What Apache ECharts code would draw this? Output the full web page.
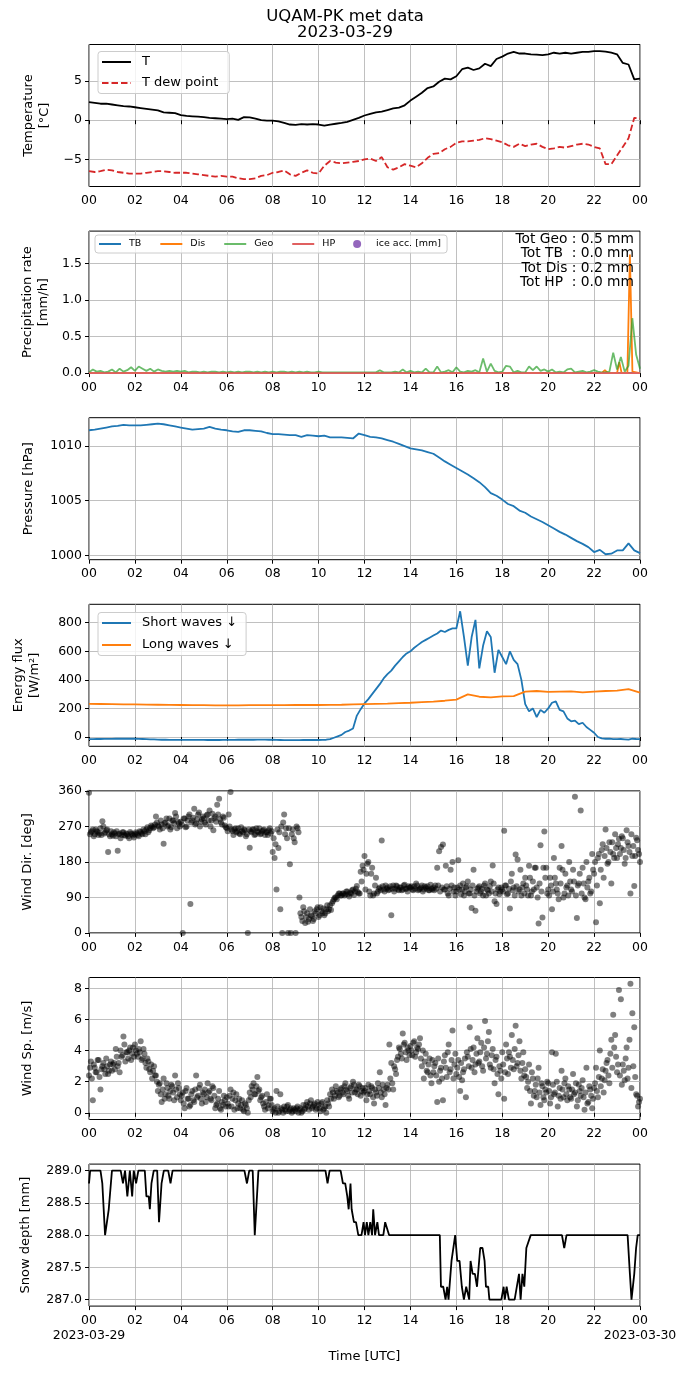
<!DOCTYPE html>
<html lang="en">
<head>
<meta charset="UTF-8">
<title>UQAM-PK met data</title>
<style>
  html, body { margin: 0; padding: 0; background: #fff; }
  #chart { width: 690px; height: 1377px; }
</style>
</head>
<body>
<div id="chart"></div>
<script src="https://cdn.jsdelivr.net/npm/echarts@6/dist/echarts.min.js"></script>
<script>
// ---- data (hours UTC on 2023-03-29) ----

// temperature, every 15 min from 00 to 24
var tempT = [
  2.3, 2.2, 2.1, 2.1,   2.0, 1.9, 1.8, 1.75,   1.65, 1.55, 1.45, 1.35,   1.25, 1.0, 0.95, 0.9,
  0.65, 0.55, 0.5, 0.45,   0.4, 0.3, 0.25, 0.2,   0.15, 0.2, 0.05, 0.4,   0.35, 0.2, 0.0, -0.05,
  -0.05, -0.15, -0.35, -0.55,   -0.6, -0.5, -0.55, -0.5,   -0.55, -0.7, -0.55, -0.45,   -0.35, -0.2, 0.05, 0.3,
  0.6, 0.8, 1.0, 1.1,   1.3, 1.5, 1.6, 1.9,   2.5, 3.0, 3.5, 4.1,   4.3, 4.9, 5.3, 5.2,
  5.6, 6.5, 6.7, 6.4,   6.6, 7.2, 6.9, 7.8,   8.1, 8.5, 8.7, 8.5,   8.5, 8.4, 8.35, 8.3,
  8.4, 8.6, 8.5, 8.6,   8.5, 8.6, 8.7, 8.7,   8.8, 8.8, 8.75, 8.6,   8.4, 7.3, 7.1, 5.2,
  5.3
];
var tempTd = [
  -6.5, -6.6, -6.5, -6.3,   -6.4, -6.6, -6.7, -6.8,   -6.8, -6.8, -6.7, -6.6,   -6.5, -6.5, -6.6, -6.7,
  -6.7, -6.7, -6.8, -6.9,   -7.0, -7.1, -7.2, -7.1,   -7.2, -7.2, -7.4, -7.5,   -7.5, -7.4, -7.1, -7.0,
  -6.7, -6.6, -6.4, -6.9,   -7.1, -6.7, -6.4, -6.7,   -6.8, -5.8, -5.2, -5.4,   -5.5, -5.4, -5.3, -5.2,
  -5.0, -4.9, -5.2, -4.7,   -6.0, -6.3, -6.0, -5.6,   -5.8, -6.0, -5.5, -4.8,   -4.3, -4.2, -3.7, -3.4,
  -2.9, -2.7, -2.7, -2.6,   -2.5, -2.3, -2.4, -2.6,   -2.8, -3.2, -3.4, -3.0,   -3.3, -3.1, -3.0, -3.4,
  -3.7, -3.6, -3.4, -3.5,   -3.3, -3.1, -3.0, -3.1,   -3.4, -3.6, -5.6, -5.6,   -4.5, -3.4, -2.3, 0.3,
  0.2
];

// precipitation rate [mm/h]; Geo every 10 min, Dis as [hour, value]
var precipGeo = [
  0.01, 0.05, 0.02, 0.03, 0.01, 0.02,   0.05, 0.01, 0.06, 0.02, 0.04, 0.08,
  0.03, 0.09, 0.06, 0.03, 0.06, 0.02,   0.05, 0.03, 0.02, 0.03, 0.02, 0.03,
  0.02, 0.03, 0.01, 0.02, 0.02, 0.01,   0.02, 0.01, 0.02, 0.02, 0.01, 0.02,
  0.01, 0.02, 0.01, 0.02, 0.01, 0.02,   0.02, 0.01, 0.02, 0.01, 0.02, 0.01,
  0.02, 0.01, 0.02, 0.02, 0.01, 0.02,   0.01, 0.02, 0.01, 0.02, 0.01, 0.01,
  0.02, 0.01, 0.01, 0.01, 0.01, 0.01,   0.01, 0.01, 0.01, 0.01, 0.01, 0.01,
  0.01, 0.01, 0.01, 0.01, 0.04, 0.01,   0.01, 0.01, 0.02, 0.01, 0.05, 0.01,
  0.03, 0.01, 0.02, 0.01, 0.06, 0.01,   0.01, 0.09, 0.01, 0.02, 0.04, 0.01,
  0.08, 0.02, 0.01, 0.03, 0.02, 0.04,   0.01, 0.20, 0.02, 0.13, 0.03, 0.01,
  0.02, 0.10, 0.09, 0.01, 0.03, 0.01,   0.01, 0.09, 0.04, 0.09, 0.03, 0.05,
  0.02, 0.05, 0.01, 0.02, 0.01, 0.05,   0.06, 0.01, 0.02, 0.03, 0.01, 0.02,
  0.04, 0.02, 0.01, 0.01, 0.02, 0.28,   0.05, 0.22, 0.02, 0.10, 0.75, 0.25,
  0.06
];
var precipDis = [
  [0, 0], [22.33, 0], [22.47, 0.04], [22.6, 0], [23.0, 0], [23.1, 0.15], [23.2, 0],
  [23.45, 0], [23.56, 1.62], [23.67, 0.02], [24, 0]
];
var precipTB = [[0, 0], [24, 0]];
var precipHP = [[0, 0], [24, 0]];
var precipTotals = ['Tot Geo : 0.5 mm', 'Tot TB  : 0.0 mm', 'Tot Dis : 0.2 mm', 'Tot HP  : 0.0 mm'];

// pressure [hPa], every 15 min
var pressure = [
  1011.45, 1011.5, 1011.6, 1011.7,   1011.8, 1011.85, 1011.95, 1011.9,   1011.9, 1011.9, 1011.95, 1012.0,
  1012.05, 1012.0, 1011.9, 1011.8,   1011.7, 1011.6, 1011.5, 1011.55,   1011.6, 1011.75, 1011.6, 1011.5,
  1011.45, 1011.35, 1011.3, 1011.45,   1011.45, 1011.4, 1011.35, 1011.2,   1011.1, 1011.1, 1011.05, 1011.0,
  1011.0, 1010.85, 1011.0, 1010.95,   1010.9, 1010.95, 1010.8, 1010.8,   1010.8, 1010.75, 1010.7, 1011.15,
  1011.0, 1010.85, 1010.8, 1010.7,   1010.55, 1010.4, 1010.2, 1010.0,   1009.8, 1009.7, 1009.6, 1009.45,
  1009.3, 1008.95, 1008.6, 1008.3,   1008.0, 1007.7, 1007.4, 1007.05,   1006.7, 1006.25, 1005.7, 1005.45,
  1005.1, 1004.7, 1004.5, 1004.1,   1003.9, 1003.55, 1003.3, 1003.05,   1002.75, 1002.45, 1002.15, 1001.9,
  1001.6, 1001.3, 1001.05, 1000.75,   1000.3, 1000.5, 1000.1, 1000.15,   1000.45, 1000.45, 1001.1, 1000.45,
  1000.2
];

// radiation [W/m2]; short waves every 10 min, long waves every 30 min
var shortWaves = [
  -15, -15, -14, -14, -13, -13,   -13, -12, -12, -12, -12, -12,   -12, -13, -14, -15, -16, -17,
  -18, -19, -19, -20, -20, -20,   -20, -20, -20, -20, -20, -20,   -20, -21, -21, -21, -21, -20,
  -20, -20, -20, -19, -19, -19,   -19, -19, -18, -18, -18, -19,   -19, -20, -21, -22, -22, -22,
  -22, -22, -21, -21, -21, -21,   -21, -20, -19, -15, -5, 5,      15, 35, 45, 60, 150, 195,
  235, 265, 300, 335, 370, 410,   440, 465, 500, 530, 560, 585,   600, 625, 645, 665, 680, 695,
  710, 725, 745, 735, 750, 760,   760, 880, 700, 500, 700, 820,   480, 640, 740, 700, 450, 610,
  560, 510, 600, 540, 510, 400,   230, 180, 200, 140, 190, 170,   200, 240, 250, 190, 180, 130,
  110, 115, 90, 100, 70, 50,      30, 0, -10, -12, -12, -15,      -15, -14, -16, -18, -12, -14,
  -15
];
var longWaves = [
  232, 231, 230, 229, 228, 227, 226, 225, 224, 223, 223, 222, 222, 222, 223, 223,
  223, 223, 224, 224, 224, 225, 226, 228, 230, 232, 234, 237, 240, 244, 248, 254,
  262, 298, 282, 278, 284, 286, 318, 322, 316, 318, 320, 312, 318, 322, 325, 335,
  310
];

// wind direction [deg] and speed [m/s]: samples every 5 min from 00:00 (A)
// and every 5 min from 00:02:30 (B)
var windDirA = [
  355, 255, 262, 250, 258, 248, 265, 283, 252, 260, 205, 245,
  250, 255, 245, 208, 252, 248, 255, 246, 250, 240, 252, 247,
  250, 252, 245, 256, 250, 258, 262, 255, 266, 270, 268, 295,
  272, 262, 275, 226, 280, 270, 290, 268, 285, 304, 265, 278,
  282, 0, 290, 270, 295, 73, 285, 315, 278, 300, 270, 288,
  290, 275, 300, 310, 285, 260, 295, 325, 340, 280, 295, 272,
  265, 300, 357, 258, 262, 255, 265, 250, 258, 262, 245, 0,
  216, 255, 262, 250, 258, 265, 252, 260, 248, 255, 260, 252,
  205, 190, 110, 215, 60, 0, 300, 265, 0, 174, 250, 240,
  0, 265, 90, 40, 65, 25, 50, 35, 45, 30, 55, 60,
  40, 65, 50, 45, 60, 55, 70, 75, 85, 90, 95, 100,
  95, 100, 98, 105, 92, 100, 110, 105, 119, 100, 155, 170,
  195, 150, 180, 95, 165, 100, 140, 105, 115, 234, 110, 120,
  115, 110, 45, 120, 112, 118, 108, 115, 110, 122, 112, 118,
  115, 110, 118, 125, 108, 112, 120, 110, 115, 118, 108, 112,
  115, 120, 165, 207, 218, 224, 110, 118, 95, 160, 180, 115,
  105, 184, 120, 110, 95, 115, 130, 100, 63, 160, 56, 112,
  118, 105, 95, 125, 110, 100, 130, 171, 80, 73, 115, 105,
  110, 259, 120, 100, 62, 150, 115, 199, 186, 110, 95, 125,
  140, 110, 170, 95, 130, 165, 115, 24, 222, 39, 257, 165,
  110, 140, 60, 190, 125, 100, 165, 220, 90, 150, 120, 180,
  110, 160, 345, 38, 125, 310, 165, 90, 180, 130, 100, 200,
  150, 27, 190, 75, 210, 140, 262, 175, 230, 125, 200, 250,
  190, 239, 215, 240, 175, 260, 220, 100, 195, 119, 241, 210,
  180
];
var windDirB = [
  250, 258, 245, 262, 256, 252, 248, 270, 255, 262, 250, 258,
  246, 252, 258, 250, 240, 255, 248, 252, 245, 256, 250, 242,
  255, 248, 258, 252, 262, 250, 268, 260, 272, 265, 275, 280,
  270, 285, 265, 278, 290, 272, 262, 285, 278, 295, 282, 270,
  275, 290, 268, 285, 300, 280, 292, 275, 288, 305, 282, 295,
  280, 298, 285, 270, 302, 290, 282, 300, 288, 275, 292, 268,
  258, 270, 262, 248, 265, 258, 252, 268, 255, 260, 250, 262,
  258, 262, 248, 265, 255, 250, 258, 262, 255, 248, 265, 258,
  240, 225, 262, 255, 270, 280, 250, 240, 265, 0, 262, 230,
  270, 255, 50, 30, 55, 40, 28, 60, 42, 35, 50, 65,
  45, 55, 62, 50, 70, 60, 58, 80, 90, 85, 100, 95,
  100, 95, 105, 98, 102, 108, 96, 112, 104, 100, 130, 160,
  110, 175, 105, 150, 95, 120, 100, 112, 108, 118, 105, 112,
  108, 118, 112, 105, 120, 110, 115, 108, 120, 112, 105, 115,
  118, 108, 112, 120, 110, 115, 105, 118, 112, 108, 122, 110,
  108, 112, 120, 105, 115, 110, 170, 100, 112, 120, 105, 95,
  115, 110, 98, 125, 105, 118, 100, 110, 120, 95, 105, 115,
  100, 112, 120, 95, 108, 118, 105, 125, 100, 110, 98, 115,
  105, 120, 98, 112, 130, 108, 95, 118, 105, 160, 115, 100,
  120, 95, 140, 105, 110, 165, 90, 125, 105, 165, 140, 100,
  95, 120, 105, 140, 110, 85, 125, 160, 100, 115, 95, 130,
  105, 130, 95, 120, 150, 100, 125, 85, 115, 140, 105, 160,
  180, 120, 200, 160, 225, 195, 215, 180, 205, 230, 190, 215,
  225, 200, 245, 210, 190, 230, 205, 250, 220, 195, 235, 200
];
var windSpeedA = [
  2.4, 3.3, 0.8, 2.9, 2.6, 3.4, 1.5, 3.0, 2.8, 3.5, 2.5, 3.1,
  2.7, 3.2, 4.1, 3.0, 2.6, 3.6, 4.9, 3.3, 3.9, 4.0, 3.4, 4.2,
  4.4, 3.8, 4.1, 4.6, 3.5, 3.8, 2.9, 3.3, 2.6, 2.2, 3.0, 2.4,
  1.4, 1.9, 0.7, 2.2, 1.2, 1.6, 0.9, 1.8, 1.3, 2.4, 1.0, 1.6,
  0.8, 1.3, 0.3, 1.6, 0.9, 0.5, 1.4, 0.7, 2.4, 1.1, 1.8, 0.6,
  1.2, 0.7, 1.9, 1.4, 0.8, 1.6, 0.3, 0.6, 1.4, 0.2, 0.5, 0.8,
  1.0, 0.4, 1.5, 0.9, 0.2, 1.2, 0.6, 0.3, 0.8, 0.1, 0.5, 0.0,
  1.3, 1.7, 1.9, 1.2, 2.3, 1.5, 1.0, 0.6, 0.2, 1.2, 0.5, 0.9,
  0.1, 0.3, 1.4, 0.0, 1.2, 0.2, 0.4, 0.1, 0.5, 0.2, 0.0, 0.3,
  0.1, 0.4, 0.2, 0.0, 0.5, 0.3, 0.7, 0.2, 0.8, 0.4, 0.6, 0.3,
  0.5, 0.1, 0.7, 0.3, 0.0, 0.6, 1.2, 1.5, 0.9, 1.7, 1.3, 1.1,
  1.6, 1.2, 1.9, 1.4, 0.9, 1.7, 2.0, 1.3, 1.5, 1.8, 1.1, 1.6,
  1.4, 0.8, 1.8, 1.2, 1.6, 0.6, 1.3, 1.9, 2.6, 1.0, 1.5, 0.5,
  1.8, 4.4, 3.2, 1.5, 2.8, 3.4, 4.2, 3.8, 5.1, 4.5, 3.4, 4.0,
  4.3, 3.7, 4.6, 3.9, 4.1, 4.8, 3.0, 2.2, 3.8, 2.6, 3.5, 1.9,
  2.6, 3.2, 0.7, 2.0, 2.9, 0.8, 3.7, 2.3, 4.4, 2.8, 5.3, 3.1,
  2.5, 3.4, 1.4, 2.1, 2.8, 1.0, 3.6, 5.5, 2.9, 4.2, 3.1, 4.8,
  3.3, 4.5, 2.7, 5.9, 3.8, 5.2, 2.9, 4.1, 1.9, 3.6, 1.2, 2.7,
  3.9, 0.9, 4.4, 2.5, 3.6, 5.0, 2.8, 5.6, 3.2, 4.6, 2.2, 3.9,
  2.8, 1.6, 3.1, 0.6, 2.2, 1.4, 1.0, 2.9, 0.5, 1.7, 0.8, 1.3,
  1.9, 0.6, 3.9, 1.2, 3.8, 0.4, 1.6, 2.7, 1.0, 2.2, 0.8, 1.5,
  0.9, 2.5, 1.3, 0.4, 1.8, 1.1, 2.1, 0.2, 2.9, 0.7, 1.5, 0.3,
  1.6, 2.9, 1.0, 4.0, 2.2, 1.3, 2.7, 3.4, 1.9, 4.7, 6.3, 5.0,
  2.6, 7.9, 7.3, 3.1, 2.1, 4.2, 2.9, 8.3, 6.4, 5.5, 1.2, 0.4,
  0.9
];
var windSpeedB = [
  2.9, 2.2, 3.1, 2.6, 3.4, 2.3, 2.8, 3.2, 2.5, 3.0, 2.7, 3.3,
  3.1, 2.8, 3.6, 3.2, 4.0, 3.7, 4.4, 3.9, 3.5, 4.2, 3.8, 3.6,
  4.0, 3.6, 3.9, 3.4, 4.1, 3.2, 3.5, 2.8, 3.1, 2.7, 2.4, 2.0,
  1.8, 1.2, 1.5, 0.9, 1.9, 1.1, 1.4, 1.7, 0.8, 1.5, 1.9, 1.2,
  1.1, 0.6, 1.4, 0.9, 0.4, 1.2, 0.8, 1.5, 1.0, 1.6, 0.9, 1.3,
  1.5, 1.0, 1.3, 0.9, 1.7, 1.1, 0.5, 0.9, 0.3, 0.7, 1.1, 0.4,
  0.6, 1.1, 0.4, 1.3, 0.8, 0.3, 0.9, 0.5, 0.2, 0.6, 0.3, 0.8,
  1.0, 1.5, 1.2, 1.7, 1.4, 0.8, 1.1, 0.4, 0.7, 0.3, 0.9, 0.5,
  0.2, 0.0, 0.4, 0.1, 0.3, 0.0, 0.2, 0.4, 0.1, 0.3, 0.1, 0.2,
  0.3, 0.0, 0.3, 0.1, 0.2, 0.5, 0.4, 0.6, 0.3, 0.5, 0.2, 0.7,
  0.3, 0.6, 0.2, 0.4, 0.8, 0.4, 0.9, 1.3, 1.1, 1.4, 1.0, 1.5,
  1.3, 1.7, 1.5, 1.1, 1.6, 1.3, 1.8, 1.5, 1.2, 1.7, 1.4, 1.3,
  1.6, 1.2, 1.4, 1.7, 1.0, 1.5, 1.1, 1.6, 1.3, 1.8, 1.2, 1.6,
  1.5, 2.2, 1.9, 3.0, 2.5, 3.6, 4.1, 3.5, 4.4, 3.9, 4.2, 3.7,
  4.0, 4.5, 3.6, 4.2, 4.4, 3.5, 4.0, 3.3, 2.7, 3.1, 2.4, 3.4,
  3.0, 2.4, 3.5, 2.7, 2.2, 3.3, 2.9, 3.9, 2.6, 3.4, 2.2, 3.8,
  2.9, 2.3, 3.2, 2.6, 3.5, 3.9, 3.0, 4.1, 3.4, 2.6, 3.8, 3.2,
  3.9, 3.0, 4.2, 3.5, 4.6, 3.1, 3.7, 2.8, 3.4, 2.5, 3.0, 2.2,
  3.1, 2.6, 3.5, 3.9, 2.9, 3.4, 4.1, 3.0, 3.7, 2.7, 3.2, 2.4,
  2.3, 2.0, 1.4, 2.6, 1.1, 1.8, 2.2, 1.3, 1.9, 1.0, 1.5, 2.0,
  1.4, 1.0, 1.8, 1.3, 2.0, 1.1, 0.9, 1.5, 1.9, 1.2, 1.7, 1.0,
  1.5, 1.2, 1.9, 0.8, 1.4, 1.6, 1.0, 1.3, 0.6, 1.7, 1.1, 0.9,
  1.9, 1.4, 2.3, 1.7, 2.8, 2.1, 3.2, 2.4, 3.8, 2.9, 4.2, 3.6,
  3.1, 2.4, 1.8, 2.7, 3.5, 2.2, 4.7, 1.6, 3.0, 2.3, 1.1, 0.7
];

// snow depth [mm] as [hour, value]
var snowDepth = [
  [0, 288.8], [0.05, 289], [0.5, 289], [0.58, 288.8], [0.7, 288], [0.86, 288.4], [1.0, 289], [1.38, 289],
  [1.48, 288.8], [1.57, 289], [1.67, 288.6], [1.78, 289], [1.88, 288.6], [1.95, 289], [2.05, 288.8], [2.15, 289],
  [2.43, 289], [2.5, 288.6], [2.6, 288.6], [2.65, 288.4], [2.72, 288.8], [2.82, 289], [2.97, 289], [3.05, 288.2],
  [3.16, 288.8], [3.26, 289], [3.45, 289], [3.55, 288.8], [3.64, 289], [6.77, 289], [6.88, 288.8], [6.98, 289],
  [7.13, 289], [7.22, 288], [7.38, 289], [10.3, 289], [10.39, 288.8], [10.48, 289], [10.96, 289], [11.06, 288.8],
  [11.16, 288.8], [11.25, 288.6], [11.31, 288.4], [11.39, 288.8], [11.44, 288.4], [11.54, 288.2], [11.63, 288.2],
  [11.73, 288], [11.87, 288], [11.96, 288.2], [12.02, 288], [12.1, 288.2], [12.17, 288], [12.25, 288.2], [12.33, 288],
  [12.38, 288.4], [12.46, 288], [12.56, 288.2], [12.63, 288], [12.82, 288], [12.9, 288.2], [12.98, 288.2], [13.07, 288],
  [15.28, 288], [15.33, 287.2], [15.43, 287.2], [15.53, 287], [15.6, 287.2], [15.66, 287], [15.79, 287.6], [15.95, 288],
  [16.04, 287.6], [16.14, 287.6], [16.24, 287.2], [16.33, 287], [16.43, 287.2], [16.48, 287.2], [16.56, 287],
  [16.62, 287.6], [16.71, 287.4], [16.81, 287.4], [16.9, 287.2], [16.96, 287.2], [17.04, 287.8], [17.14, 287.8],
  [17.23, 287.6], [17.29, 287.2], [17.39, 287.2], [17.44, 287], [17.96, 287], [18.06, 287.2], [18.11, 287],
  [18.19, 287.2], [18.29, 287], [18.54, 287], [18.73, 287.4], [18.8, 287], [18.88, 287.4], [18.96, 287.2],
  [19.05, 287.8], [19.11, 287.8], [19.24, 288], [20.6, 288], [20.7, 287.8], [20.8, 288], [23.46, 288],
  [23.56, 287.4], [23.63, 287], [23.75, 287.4], [23.83, 287.8], [23.9, 288], [24, 288]
];

// ---- layout ----
var FONT = 'DejaVu Sans';
var TICK_FONT = 12.5;
var LABEL_FONT = 13;
var panelTop = [44.5, 231.1, 417.7, 604.3, 790.9, 977.5, 1164.1];
var PANEL_H = 142;
var GRID_COLOR = '#b0b0b0';

// values at regular steps -> [hour, value]
function onHours(values, step, start) {
  start = start || 0;
  return values.map(function (v, i) { return [start + i * step, v]; });
}

function hourLabel(v) {
  var h = v % 24;
  return (h < 10 ? '0' : '') + h;
}

function minusSign(v) {
  return String(v).replace('-', '\u2212');
}

function makeX(i) {
  var last = i === panelTop.length - 1;
  var ax = {
    type: 'value', gridIndex: i, min: 0, max: 24, interval: 2,
    axisLine: { show: false },
    axisTick: { show: true, length: 4, lineStyle: { color: '#000', width: 1 } },
    axisLabel: {
      color: '#000', fontFamily: FONT, fontSize: TICK_FONT, margin: 7, lineHeight: 15,
      showMinLabel: true, showMaxLabel: true, hideOverlap: false,
      formatter: function (v) {
        if (last && v === 0) return '00\n2023-03-29';
        if (last && v === 24) return '00\n2023-03-30';
        return hourLabel(v);
      }
    },
    splitLine: { show: true, lineStyle: { color: GRID_COLOR, width: 0.8 } }
  };
  if (last) {
    ax.name = 'Time [UTC]';
    ax.nameLocation = 'middle';
    ax.nameGap = 44;
    ax.nameTextStyle = { color: '#000', fontFamily: FONT, fontSize: LABEL_FONT };
  }
  return ax;
}

function makeY(i, o) {
  var ax = {
    type: 'value', gridIndex: i, min: o.min, max: o.max,
    name: o.name, nameLocation: 'middle', nameGap: o.gap, nameRotate: 90,
    nameTextStyle: { color: '#000', fontFamily: FONT, fontSize: LABEL_FONT, lineHeight: 16, align: 'center' },
    axisLine: { show: false },
    axisTick: { show: true, length: 4, lineStyle: { color: '#000', width: 1 }, customValues: o.ticks },
    axisLabel: {
      color: '#000', fontFamily: FONT, fontSize: TICK_FONT, margin: 7,
      customValues: o.ticks, formatter: o.fmt || minusSign
    },
    splitLine: { show: true, lineStyle: { color: GRID_COLOR, width: 0.8 } }
  };
  if (o.interval) ax.interval = o.interval; else ax.splitNumber = o.split;
  return ax;
}

var grids = panelTop.map(function (t) {
  return {
    left: 89, right: 50, top: t, height: PANEL_H, show: true,
    borderColor: '#000', borderWidth: 1, backgroundColor: 'transparent'
  };
});

var xAxes = panelTop.map(function (t, i) { return makeX(i); });

var yAxes = [
  makeY(0, { min: -8.45, max: 9.65, split: 4, ticks: [-5, 0, 5], name: 'Temperature\n[°C]', gap: 36 }),
  makeY(1, { min: 0, max: 1.94, interval: 0.5, ticks: [0, 0.5, 1, 1.5], name: 'Precipitation rate\n[mm/h]', gap: 36,
    fmt: function (v) { return v.toFixed(1); } }),
  makeY(2, { min: 999.6, max: 1012.6, split: 3, ticks: [1000, 1005, 1010], name: 'Pressure [hPa]', gap: 52 }),
  makeY(3, { min: -65, max: 929, split: 5, ticks: [0, 200, 400, 600, 800], name: 'Energy flux\n[W/m²]', gap: 46 }),
  makeY(4, { min: 0, max: 360, interval: 90, ticks: [0, 90, 180, 270, 360], name: 'Wind Dir. [deg]', gap: 53 }),
  makeY(5, { min: -0.43, max: 8.7, split: 5, ticks: [0, 2, 4, 6, 8], name: 'Wind Sp. [m/s]', gap: 53 }),
  makeY(6, { min: 286.9, max: 289.1, split: 5, ticks: [287, 287.5, 288, 288.5, 289], name: 'Snow depth [mm]', gap: 55,
    fmt: function (v) { return v.toFixed(1); } })
];

function line(name, i, data, color, extra) {
  var s = {
    name: name, type: 'line', xAxisIndex: i, yAxisIndex: i, data: data,
    symbol: 'none', showSymbol: false, animation: false,
    lineStyle: { color: color, width: 1.8 }, itemStyle: { color: color }
  };
  if (extra) Object.keys(extra).forEach(function (k) { s[k] = extra[k]; });
  return s;
}

function dots(name, i, data) {
  return {
    name: name, type: 'scatter', xAxisIndex: i, yAxisIndex: i, data: data,
    symbolSize: 6, animation: false,
    itemStyle: { color: '#000', opacity: 0.5 }
  };
}

var series = [
  line('T', 0, onHours(tempT, 0.25), '#000000'),
  line('T dew point', 0, onHours(tempTd, 0.25), '#d62728',
    { lineStyle: { color: '#d62728', width: 1.8, type: [6.5, 3] } }),

  line('TB', 1, precipTB, '#1f77b4'),
  line('Dis', 1, precipDis, '#ff7f0e'),
  line('Geo', 1, onHours(precipGeo, 1 / 6), '#2ca02c',
    { lineStyle: { color: '#2ca02c', width: 1.8, opacity: 0.7 } }),
  line('HP', 1, precipHP, '#e06060'),
  { name: 'ice acc. [mm]', type: 'scatter', xAxisIndex: 1, yAxisIndex: 1, data: [],
    symbolSize: 5, itemStyle: { color: '#9467bd' } },

  line('Pressure', 2, onHours(pressure, 0.25), '#1f77b4'),

  line('Short waves \u2193', 3, onHours(shortWaves, 1 / 6), '#1f77b4'),
  line('Long waves \u2193', 3, onHours(longWaves, 0.5), '#ff7f0e'),

  dots('Wind Dir.', 4, onHours(windDirA, 1 / 12)),
  dots('Wind Dir. B', 4, onHours(windDirB, 1 / 12, 1 / 24)),
  dots('Wind Sp.', 5, onHours(windSpeedA, 1 / 12)),
  dots('Wind Sp. B', 5, onHours(windSpeedB, 1 / 12, 1 / 24)),

  line('Snow depth', 6, snowDepth, '#000000')
];

var legendBox = {
  backgroundColor: 'rgba(255,255,255,0.8)', borderColor: '#cccccc', borderWidth: 1, borderRadius: 3,
  // line handles only, no marker in the middle
  itemStyle: { opacity: 0 }
};

var legends = [
  Object.assign({
    data: ['T', 'T dew point'], orient: 'vertical', left: 98, top: 51.5,
    padding: [4, 11, 4, 3], itemWidth: 29, itemHeight: 14, itemGap: 8,
    textStyle: { color: '#000', fontFamily: FONT, fontSize: LABEL_FONT, padding: [0, 0, 0, 6] }
  }, legendBox),
  Object.assign({
    data: ['TB', 'Dis', 'Geo', 'HP',
      { name: 'ice acc. [mm]', icon: 'circle', itemStyle: { opacity: 1, color: '#9467bd' } }],
    orient: 'horizontal', left: 95, top: 235,
    padding: [4, 6, 4, 3], itemWidth: 22, itemHeight: 8, itemGap: 18,
    textStyle: { color: '#000', fontFamily: FONT, fontSize: 9.5, padding: [0, 0, 0, 3] }
  }, legendBox),
  Object.assign({
    data: ['Short waves \u2193', 'Long waves \u2193'], orient: 'vertical', left: 98, top: 612.5,
    padding: [4, 9, 4, 3], itemWidth: 29, itemHeight: 14, itemGap: 9,
    textStyle: { color: '#000', fontFamily: FONT, fontSize: LABEL_FONT, padding: [0, 0, 0, 6] }
  }, legendBox)
];

var chart = echarts.init(document.getElementById('chart'), null, { renderer: 'canvas' });
chart.setOption({
  animation: false,
  backgroundColor: '#ffffff',
  title: {
    text: 'UQAM-PK met data\n2023-03-29', left: 'center', top: 3,
    textStyle: { color: '#000', fontFamily: FONT, fontSize: 16.5, fontWeight: 'normal', lineHeight: 16.5, align: 'center' }
  },
  legend: legends,
  grid: grids,
  xAxis: xAxes,
  yAxis: yAxes,
  series: series,
  graphic: [{
    type: 'text', right: 56, top: 232.5, z: 100,
    style: {
      text: precipTotals.join('\n'), textAlign: 'right', fill: '#000',
      font: '13.8px ' + FONT, lineHeight: 14.2
    }
  }]
});
</script>
</body>
</html>
